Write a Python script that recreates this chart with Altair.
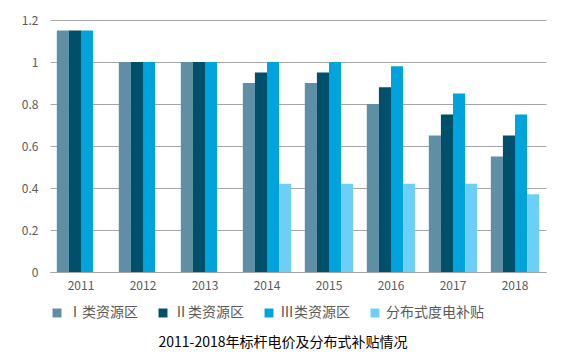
import altair as alt
import pandas as pd

years = ["2011", "2012", "2013", "2014", "2015", "2016", "2017", "2018"]
series = ["Ⅰ类资源区", "Ⅱ类资源区", "Ⅲ类资源区", "分布式度电补贴"]
s1 = [1.15, 1.0, 1.0, 0.9, 0.9, 0.8, 0.65, 0.55]
s2 = [1.15, 1.0, 1.0, 0.95, 0.95, 0.88, 0.75, 0.65]
s3 = [1.15, 1.0, 1.0, 1.0, 1.0, 0.98, 0.85, 0.75]
s4 = [None, None, None, 0.42, 0.42, 0.42, 0.42, 0.37]
colors = ["#5F8FA5", "#004F6B", "#00A3DC", "#6DCFF6"]

rows = []
for name, vals in zip(series, [s1, s2, s3, s4]):
    for y, v in zip(years, vals):
        if v is not None:
            rows.append({"year": y, "series": name, "value": v})
df = pd.DataFrame(rows)

font = "Noto Sans CJK SC"

chart = alt.Chart(df).mark_bar().encode(
    x=alt.X("year:N", sort=years, title=None,
            scale=alt.Scale(paddingInner=0.22, paddingOuter=0.11),
            axis=alt.Axis(labelAngle=0, ticks=False, domainColor="#A6A6A6",
                          labelColor="#595959", labelFontSize=12, labelPadding=8,
                          labelFont=font)),
    xOffset=alt.XOffset("series:N", sort=series, scale=alt.Scale(paddingInner=0, paddingOuter=0)),
    y=alt.Y("value:Q", title=None,
            scale=alt.Scale(domain=[0, 1.2]),
            axis=alt.Axis(values=[0, 0.2, 0.4, 0.6, 0.8, 1.0, 1.2], format="~g",
                          domain=False, ticks=False,
                          gridColor="#A6A6A6", labelColor="#595959", labelFontSize=12,
                          labelPadding=12, labelFont=font)),
    color=alt.Color("series:N", sort=series,
                    scale=alt.Scale(domain=series, range=colors),
                    legend=alt.Legend(title=None, orient="bottom", direction="horizontal",
                                      symbolType="square", symbolSize=80, symbolStrokeWidth=0,
                                      labelFontSize=14, labelColor="#595959", labelFont=font,
                                      columnPadding=18, offset=15, labelLimit=200)),
).properties(
    width=496, height=252,
    title=alt.TitleParams("2011-2018年标杆电价及分布式补贴情况", orient="bottom",
                          fontSize=14, font=font, fontWeight="normal", color="#000000",
                          offset=16, dx=-15),
    padding={"left": 42, "top": 12, "right": 9, "bottom": 81},
    autosize=alt.AutoSizeParams(type="none"),
).configure_view(stroke=None)

chart.save("out.html", embed_options={"renderer": "svg", "actions": False})
